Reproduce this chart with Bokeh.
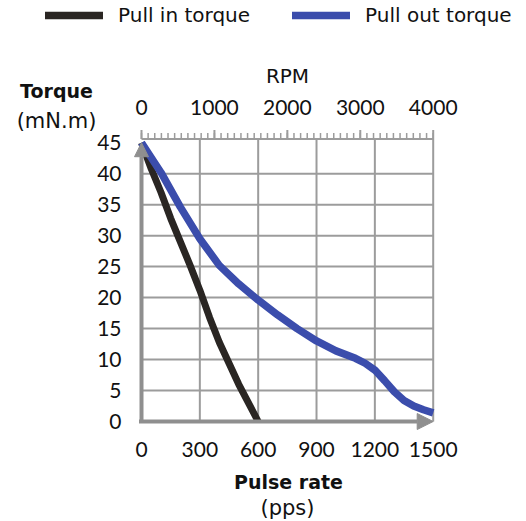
from bokeh.plotting import figure
from bokeh.models import Range1d, Label, Legend, LegendItem, Arrow, NormalHead
from bokeh.core.properties import value
from bokeh.embed import file_html
from bokeh.resources import INLINE

# ---- data ----
pull_in_pps = [0, 50, 100, 150, 200, 250, 300, 350, 400, 450, 500, 550, 600]
pull_in_torque = [45, 40.8, 37.0, 32.8, 29.0, 25.2, 21.2, 16.8, 12.8, 9.4, 6.0, 3.0, 0]

pull_out_pps = [0, 100, 200, 300, 400, 500, 600, 700, 800, 900, 1000, 1100, 1150, 1200,
                1250, 1300, 1350, 1400, 1450, 1500]
pull_out_torque = [45, 40.2, 34.6, 29.5, 25.2, 22.2, 19.6, 17.2, 15.0, 13.0, 11.4, 10.2, 9.4,
                   8.3, 6.6, 4.8, 3.4, 2.5, 1.9, 1.4]

pps_ticks = [0, 300, 600, 900, 1200, 1500]
torque_ticks = [0, 5, 10, 15, 20, 25, 30, 35, 40, 45]
rpm_ticks = [0, 1000, 2000, 3000, 4000]
rpm_minor = [i * 4000 / 44 for i in range(45)]
PPS_MAX, TORQUE_TOP, RPM_MAX = 1500, 45.6, 4000

# ---- layout (pixels) ----
W, H = 526, 521
FX0, FX1 = 141, 432.7      # pixel x of 0 and 1500 pps
FY0, FY1 = 421, 138.5      # pixel y of 0 and top of grid
SX = (FX1 - FX0) / PPS_MAX
SY = (FY0 - FY1) / TORQUE_TOP


def dx(px):
    return (px - FX0) / SX


def dy(py):
    return (FY0 - py) / SY


NUMFONT = "Lato"
FONT = "DejaVu Sans"
TXT = "#111111"
GREY = "#8f8f8f"
GRID = "#9c9c9c"
BLUE = "#3b4dac"
BLACK = "#2a2623"
NFS = "21px"

p = figure(width=W, height=H, x_range=Range1d(dx(0), dx(W)), y_range=Range1d(dy(H), dy(0)),
           output_backend="svg", toolbar_location=None, min_border=0)
p.axis.visible = False
p.grid.visible = False
p.outline_line_color = None
k = RPM_MAX / PPS_MAX
p.extra_x_ranges = {"rpm": Range1d(dx(0) * k, dx(W) * k)}

# grid
p.segment(x0=pps_ticks[1:], y0=[0] * 5, x1=pps_ticks[1:], y1=[TORQUE_TOP] * 5,
          line_color=GRID, line_width=2)
p.segment(x0=[0] * 8, y0=torque_ticks[1:-1], x1=[PPS_MAX] * 8, y1=torque_ticks[1:-1],
          line_color=GRID, line_width=2)
p.segment(x0=[0], y0=[TORQUE_TOP], x1=[PPS_MAX], y1=[TORQUE_TOP], line_color=GRID, line_width=2)

# top RPM ticks
p.segment(x0=rpm_minor, y0=[TORQUE_TOP] * len(rpm_minor), x1=rpm_minor,
          y1=[dy(FY1 - 6)] * len(rpm_minor), line_color=GRID, line_width=1.5, x_range_name="rpm")
p.segment(x0=rpm_ticks, y0=[TORQUE_TOP] * 5, x1=rpm_ticks, y1=[dy(FY1 - 9)] * 5,
          line_color=GRID, line_width=2, x_range_name="rpm")
p.text(x=rpm_ticks, y=[dy(107)] * 5, text=[str(t) for t in rpm_ticks], x_range_name="rpm",
       text_font=value(NUMFONT), text_font_size=NFS, text_color=TXT,
       text_align="center", text_baseline="middle")

# bottom and left tick labels
p.text(x=pps_ticks, y=[dy(449)] * 6, text=[str(t) for t in pps_ticks],
       text_font=value(NUMFONT), text_font_size=NFS, text_color=TXT,
       text_align="center", text_baseline="middle")
p.text(x=[dx(121)] * 10, y=torque_ticks, text=[str(t) for t in torque_ticks],
       text_font=value(NUMFONT), text_font_size=NFS, text_color=TXT,
       text_align="right", text_baseline="middle")

# axis arrows
arr_y = Arrow(end=NormalHead(size=14, fill_color=GREY, line_color=GREY),
              x_start=0, y_start=0, x_end=0, y_end=45, line_color=GREY, line_width=4,
              level="glyph")
arr_x = Arrow(end=NormalHead(size=16, fill_color=GREY, line_color=GREY),
              x_start=dx(FX0 - 2.5), y_start=0, x_end=PPS_MAX, y_end=0, line_color=GREY,
              line_width=4, level="glyph")
p.add_layout(arr_y)
p.add_layout(arr_x)

# curves
r_in = p.line(pull_in_pps, pull_in_torque, line_color=BLACK, line_width=7, line_join="round")
r_out = p.line(pull_out_pps, pull_out_torque, line_color=BLUE, line_width=7.5, line_join="round")

# legend (proxy lines lie outside the visible range)
off = [dx(-200), dx(-190)]
lg_in = p.line(x=off, y=[0, 0], line_color=BLACK, line_width=7.5, line_cap="round")
lg_out = p.line(x=off, y=[0, 0], line_color=BLUE, line_width=7.5, line_cap="round")
legend = Legend(items=[LegendItem(label="Pull in torque", renderers=[lg_in]),
                       LegendItem(label="Pull out torque", renderers=[lg_out])],
                orientation="horizontal", location=(45, H - 27))
legend.glyph_width = 58
legend.glyph_height = 20
legend.label_standoff = 15
legend.spacing = 42
legend.padding = 0
legend.margin = 0
legend.border_line_color = None
legend.background_fill_alpha = 0
legend.label_text_font = FONT
legend.label_text_font_size = "20px"
legend.label_text_color = TXT
legend.label_text_baseline = "middle"
p.add_layout(legend, "center")

# axis titles
for txt, px, py, bold, fs in [("Torque", 56, 90, True, "19px"), ("(mN.m)", 56, 120, False, "21px"),
                              ("RPM", 287, 75, False, "20px"),
                              ("Pulse rate", 288, 481, True, "19px"),
                              ("(pps)", 287, 507, False, "21px")]:
    p.add_layout(Label(x=dx(px), y=dy(py), text=txt, text_font=FONT, text_font_size=fs,
                       text_font_style="bold" if bold else "normal", text_color=TXT,
                       text_align="center", text_baseline="middle"))

open("out.html", "w").write(file_html(p, INLINE))
